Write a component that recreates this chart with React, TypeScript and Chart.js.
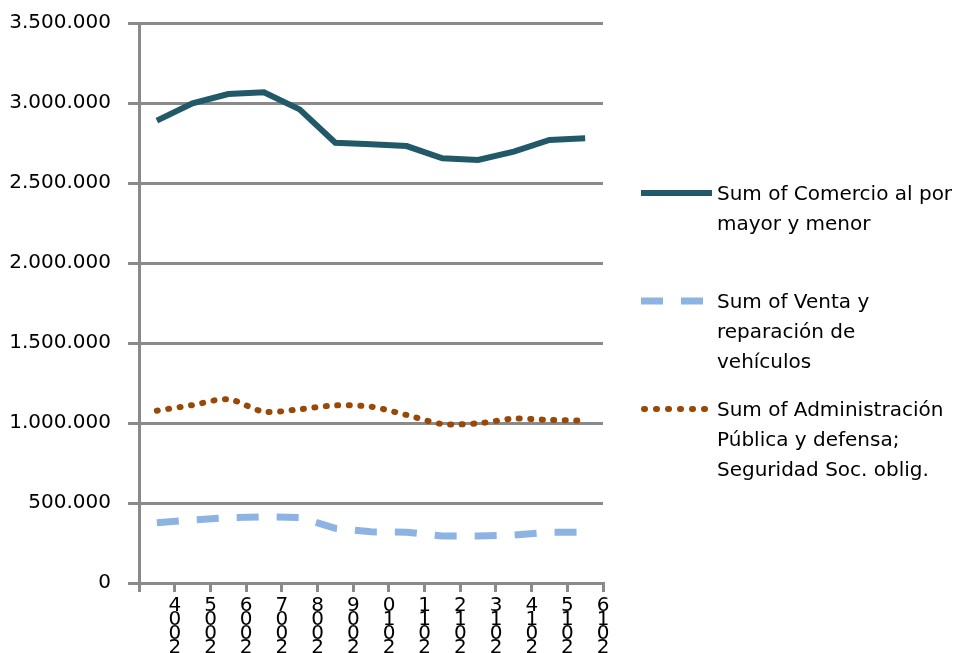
import React, { useEffect, useRef } from "react";
import { Chart, registerables } from "chart.js";

Chart.register(...registerables);

const years = [2004, 2005, 2006, 2007, 2008, 2009, 2010, 2011, 2012, 2013, 2014, 2015, 2016];
const comercio = [2890000, 2998000, 3056000, 3067000, 2960000, 2752000, 2742000, 2731000, 2654000, 2644000, 2696000, 2769000, 2779000];
const venta = [377000, 394000, 408000, 414000, 410000, 342000, 320000, 317000, 294000, 294000, 300000, 317000, 317000];
const administracion = [1077000, 1112000, 1148000, 1071000, 1086000, 1110000, 1102000, 1050000, 994000, 998000, 1027000, 1019000, 1015000];
const yMin = 0;
const yMax = 3500000;
const yStep = 500000;
const legendTexts = [
  ["Sum of Comercio al por", "mayor y menor"],
  ["Sum of Venta y", "reparación de", "vehículos"],
  ["Sum of Administración", "Pública y defensa;", "Seguridad Soc. oblig."],
];

const COL_COM = "#215968";
const COL_VEN = "#8db3e2";
const COL_ADM = "#984807";
const GRID = "#8a8a8a";
const FONT = "'DejaVu Sans', sans-serif";

function fmt(v: number): string {
  return String(Math.round(v)).replace(/\B(?=(\d{3})+(?!\d))/g, ".");
}

const legendPlugin = {
  id: "customLegend",
  afterDraw(chart: any) {
    const ctx = chart.ctx as CanvasRenderingContext2D;
    const area = chart.chartArea;
    const x0 = area.right + 38;
    const x1 = x0 + 71;
    const tx = x0 + 76;
    const entries = [
      { y: 193, color: COL_COM, dash: [] as number[], width: 6, cap: "butt" as CanvasLineCap },
      { y: 301, color: COL_VEN, dash: [22, 18], width: 7, cap: "butt" as CanvasLineCap },
      { y: 409, color: COL_ADM, dash: [1, 11], width: 6, cap: "round" as CanvasLineCap },
    ];
    ctx.save();
    entries.forEach((e, i) => {
      ctx.beginPath();
      ctx.setLineDash(e.dash);
      ctx.lineCap = e.cap;
      ctx.strokeStyle = e.color;
      ctx.lineWidth = e.width;
      ctx.moveTo(x0 + (e.cap === "round" ? 3 : 0), e.y);
      ctx.lineTo(x1, e.y);
      ctx.stroke();
      ctx.setLineDash([]);
      ctx.fillStyle = "#000";
      ctx.font = `20px ${FONT}`;
      ctx.textBaseline = "middle";
      ctx.textAlign = "left";
      legendTexts[i].forEach((t, j) => {
        ctx.fillText(t, tx, e.y + 2 + j * 30);
      });
    });
    ctx.restore();
  },
};

export default function App() {
  const ref = useRef<HTMLCanvasElement | null>(null);
  useEffect(() => {
    document.body.style.margin = "0";
    const canvas = ref.current;
    if (!canvas) return;
    const chart = new Chart(canvas, {
      type: "line",
      data: {
        labels: years.map((y) => String(y).split("").reverse()),
        datasets: [
          {
            label: "Sum of Comercio al por mayor y menor",
            data: comercio,
            borderColor: COL_COM,
            borderWidth: 6,
            pointRadius: 0,
            tension: 0,
            fill: false,
          },
          {
            label: "Sum of Venta y reparación de vehículos",
            data: venta,
            borderColor: COL_VEN,
            borderWidth: 7,
            borderDash: [22, 18],
            pointRadius: 0,
            tension: 0,
            fill: false,
          },
          {
            label: "Sum of Administración Pública y defensa; Seguridad Soc. oblig.",
            data: administracion,
            borderColor: COL_ADM,
            borderWidth: 6,
            borderDash: [1, 10.5],
            borderCapStyle: "round",
            pointRadius: 0,
            tension: 0.3,
            fill: false,
          },
        ],
      },
      options: {
        animation: false,
        responsive: false,
        devicePixelRatio: 1,
        layout: { padding: { top: 23, right: 356, bottom: 0, left: 0 } },
        plugins: { legend: { display: false }, tooltip: { enabled: false } },
        scales: {
          x: {
            type: "category",
            offset: true,
            grid: {
              offset: true,
              drawOnChartArea: false,
              drawTicks: true,
              tickLength: 9,
              color: GRID,
              lineWidth: 3,
            },
            border: { display: true, color: GRID, width: 3 },
            ticks: {
              color: "#000",
              font: { family: FONT, size: 20, lineHeight: 0.7 },
              labelOffset: 18,
              padding: 7,
              maxRotation: 0,
              minRotation: 0,
              autoSkip: false,
            },
            afterFit: (s: any) => {
              s.height = 70;
            },
          },
          y: {
            min: yMin,
            max: yMax,
            grid: {
              color: GRID,
              lineWidth: 3,
              drawTicks: true,
              tickLength: 11,
            },
            border: { display: true, color: GRID, width: 3 },
            ticks: {
              stepSize: yStep,
              color: "#000",
              font: { family: FONT, size: 20 },
              padding: 17,
              callback: (v: any) => fmt(Number(v)),
            },
            afterFit: (s: any) => {
              s.width = 139;
              s.paddingTop = 0;
              s.paddingBottom = 0;
            },
          },
        },
      },
      plugins: [legendPlugin],
    } as any);
    return () => chart.destroy();
  }, []);
  return (
    <div style={{ position: "absolute", left: 0, top: 0, width: 959, height: 653 }}>
      <canvas ref={ref} width={959} height={653} />
    </div>
  );
}
